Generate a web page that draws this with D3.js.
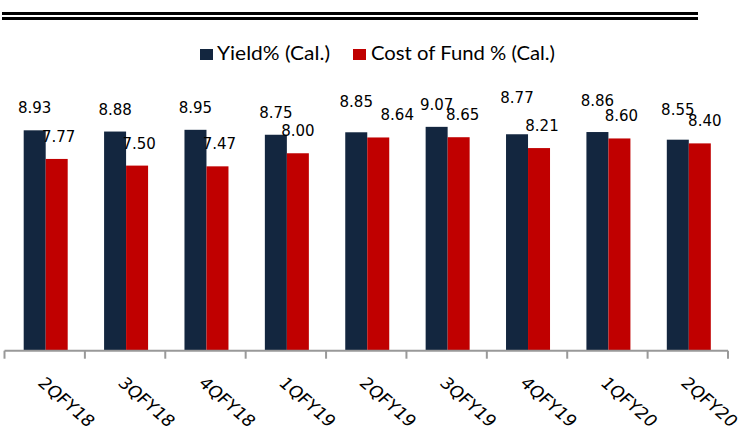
<!DOCTYPE html>
<html>
<head>
<meta charset="utf-8">
<script src="https://cdn.jsdelivr.net/npm/d3@7"></script>
<style>
  html, body { margin: 0; padding: 0; background: #fff; }
  svg { display: block; }
</style>
</head>
<body>
<svg id="chart" width="743" height="431"></svg>
<script>
// Quarterly yield vs cost of fund
const categories = ["2QFY18", "3QFY18", "4QFY18", "1QFY19", "2QFY19", "3QFY19", "4QFY19", "1QFY20", "2QFY20"];
const yieldValues = [8.93, 8.88, 8.95, 8.75, 8.85, 9.07, 8.77, 8.86, 8.55];
const costValues = [7.77, 7.50, 7.47, 8.00, 8.64, 8.65, 8.21, 8.60, 8.40];
const seriesNames = ["Yield% (Cal.)", "Cost of Fund % (Cal.)"];
const seriesColors = ["#13263F", "#C00000"];

// hand-placed label nudges (px) so crowded value labels stay readable
const yieldLabelLift = [0, 0, 0, 0, 8, 0, 14, 9, 8];
const costLabelShift = [2, 2, 2, 0, 19, 4, 3, 2, 5];

const svg = d3.select("#chart");

// double rule across the top
svg.append("rect").attr("x", 2).attr("y", 12).attr("width", 696).attr("height", 3).attr("fill", "#000");
svg.append("rect").attr("x", 2).attr("y", 17).attr("width", 696).attr("height", 3).attr("fill", "#000");

const plot = { left: 4.5, right: 728, bottom: 350.7, top: 103.9 };

const x = d3.scaleBand().domain(categories).range([plot.left, plot.right]).paddingInner(0).paddingOuter(0);
const y = d3.scaleLinear().domain([0, 10]).range([plot.bottom, plot.top]);

const series = [yieldValues, costValues];
const barW = 22;
const barX = (c, si) => x(c) + x.bandwidth() / 2 - barW + 1 + si * barW;

const groups = svg.append("g");
series.forEach((vals, si) => {
  groups.selectAll(null)
    .data(categories.map((c, i) => ({ c, v: vals[i] })))
    .enter().append("rect")
    .attr("x", d => barX(d.c, si))
    .attr("y", d => y(d.v))
    .attr("width", barW)
    .attr("height", d => y(0) - y(d.v))
    .attr("fill", seriesColors[si]);
});

// value labels above each bar
series.forEach((vals, si) => {
  groups.selectAll(null)
    .data(categories.map((c, i) => ({ c, v: vals[i], i })))
    .enter().append("text")
    .attr("x", d => barX(d.c, si) + barW / 2 + (si === 1 ? costLabelShift[d.i] : 0))
    .attr("y", d => y(d.v) - 17 - (si === 0 ? yieldLabelLift[d.i] : 0))
    .attr("text-anchor", "middle")
    .attr("font-family", "DejaVu Sans, Verdana, sans-serif")
    .attr("font-size", 15)
    .attr("fill", "#000")
    .text(d => d.v.toFixed(2));
});

// category axis
const axis = svg.append("g").attr("transform", `translate(0,${plot.bottom})`);
axis.append("line")
  .attr("x1", plot.left).attr("x2", plot.right)
  .attr("y1", 0).attr("y2", 0)
  .attr("stroke", "#999").attr("stroke-width", 2);
const tickPos = categories.map(c => x(c)).concat([plot.right]);
axis.selectAll("line.tick").data(tickPos).enter().append("line")
  .attr("class", "tick")
  .attr("x1", d => d).attr("x2", d => d)
  .attr("y1", 0).attr("y2", 8)
  .attr("stroke", "#999").attr("stroke-width", 2);

svg.append("g").selectAll("text")
  .data(categories).enter().append("text")
  .attr("transform", d => `translate(${x(d) + x.bandwidth() / 2 - 8},384) scale(1.15,1) rotate(45)`)
  .attr("font-family", "DejaVu Sans, Verdana, sans-serif")
  .attr("font-size", 16)
  .attr("fill", "#000")
  .text(d => d);

// legend
const legend = svg.append("g");
const legendItems = [
  { name: seriesNames[0], color: seriesColors[0], sx: 200, tx: 217, w: 113 },
  { name: seriesNames[1], color: seriesColors[1], sx: 353, tx: 371, w: 184 }
];
legendItems.forEach(it => {
  legend.append("rect").attr("x", it.sx).attr("y", 49).attr("width", 13).attr("height", 11).attr("fill", it.color);
  legend.append("text")
    .attr("x", it.tx).attr("y", 60)
    .attr("font-family", "Lato, Calibri, sans-serif")
    .attr("font-size", 19)
    .attr("textLength", it.w)
    .attr("lengthAdjust", "spacingAndGlyphs")
    .attr("fill", "#000")
    .text(it.name);
});
</script>
</body>
</html>
